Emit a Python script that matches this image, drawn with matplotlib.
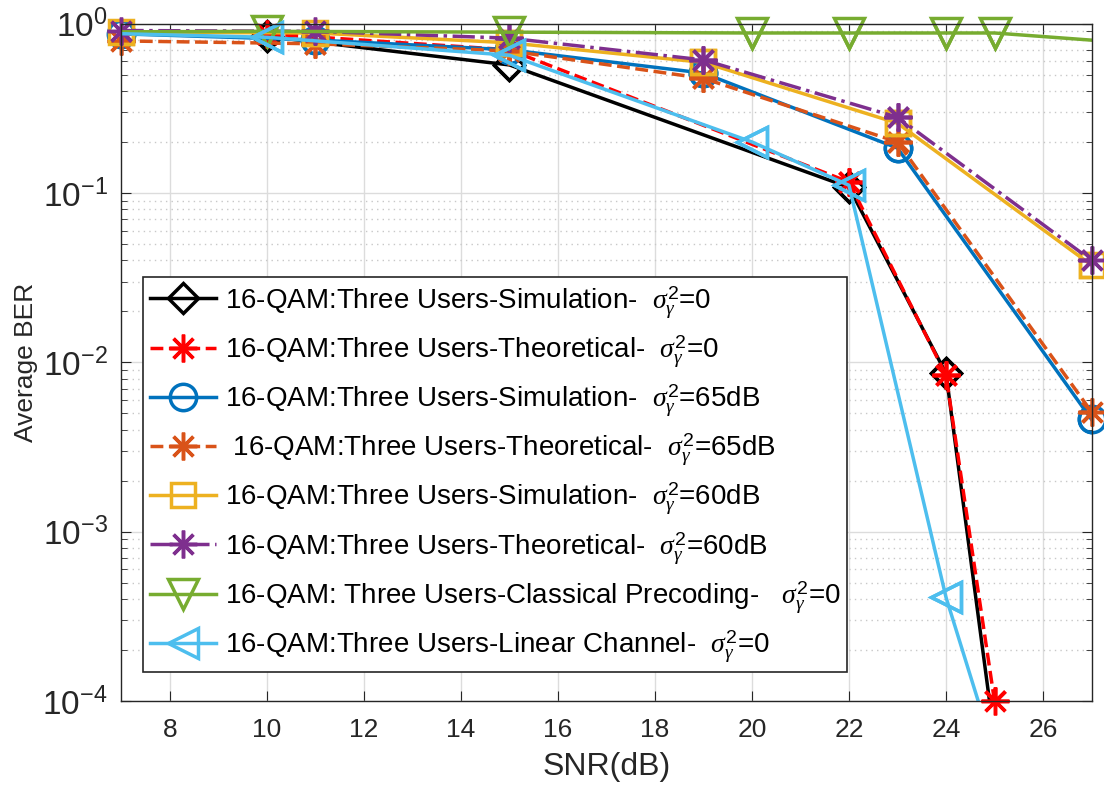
import numpy as np
import matplotlib
matplotlib.use('Agg')
import matplotlib.pyplot as plt

plt.rcParams['font.family'] = ['Liberation Sans', 'DejaVu Sans']
plt.rcParams['mathtext.fontset'] = 'custom'
plt.rcParams['mathtext.rm'] = 'Liberation Sans'
plt.rcParams['mathtext.it'] = 'Liberation Serif:italic'
plt.rcParams['mathtext.bf'] = 'Liberation Sans:bold'

# SNR points
snr_a = [10, 15, 22, 24, 25]
snr_b = [7, 11, 15, 19, 23, 27]
snr_cp = [5, 10, 15, 20, 22, 24, 25, 30]
snr_lin = [5, 10, 15, 20, 22, 24, 25]

# BER values
sim_0 = [0.84, 0.57, 0.108, 0.0086, 6.0e-5]
theo_0 = [0.87, 0.70, 0.116, 0.0084, 1.0e-4]
sim_65 = [0.87, 0.80, 0.70, 0.51, 0.184, 0.0046]
theo_65 = [0.79, 0.76, 0.69, 0.475, 0.20, 0.0051]
sim_60 = [0.89, 0.88, 0.77, 0.59, 0.258, 0.0375]
theo_60 = [0.91, 0.90, 0.82, 0.61, 0.28, 0.040]
classical = [0.89, 0.90, 0.89, 0.88, 0.88, 0.88, 0.88, 0.69]
linear = [0.90, 0.83, 0.65, 0.20, 0.111, 4.1e-4, 4.9e-5]

sig = r'$\sigma_{\gamma}^{2}$'
labels = [
    '16-QAM:Three Users-Simulation-  ' + sig + '=0',
    '16-QAM:Three Users-Theoretical-  ' + sig + '=0',
    '16-QAM:Three Users-Simulation-  ' + sig + '=65dB',
    ' 16-QAM:Three Users-Theoretical-  ' + sig + '=65dB',
    '16-QAM:Three Users-Simulation-  ' + sig + '=60dB',
    '16-QAM:Three Users-Theoretical-  ' + sig + '=60dB',
    '16-QAM: Three Users-Classical Precoding-   ' + sig + '=0',
    '16-QAM:Three Users-Linear Channel-  ' + sig + '=0',
]

star = (8, 2, 0)
series = [
    (snr_a, sim_0, 'k', '-', 'D', 15),
    (snr_a, theo_0, 'r', '--', star, 20),
    (snr_b, sim_65, '#0072BD', '-', 'o', 19),
    (snr_b, theo_65, '#D95319', '--', star, 20),
    (snr_b, sim_60, '#EDB120', '-', 's', 17),
    (snr_b, theo_60, '#7E2F8E', '-.', star, 20),
    (snr_cp, classical, '#77AC30', '-', 'v', 22),
    (snr_lin, linear, '#4DBEEE', '-', '<', 22),
]

fig = plt.figure(figsize=(11.04, 7.86), dpi=100)
ax = fig.add_axes([0.110, 0.108, 0.8787, 0.862])

handles = []
for (x, y, c, ls, mk, ms), lab in zip(series, labels):
    h, = ax.plot(x, y, color=c, linestyle=ls, linewidth=2.5, marker=mk,
                 markersize=ms, markerfacecolor='none', markeredgecolor=c,
                 markeredgewidth=2.5, label=lab)
    handles.append(h)
    # markers are not clipped at the axes edge, lines are
    x = np.array(x)
    y = np.array(y)
    m = (x >= 7) & (x <= 27) & (y >= 1e-4) & (y <= 1)
    ax.plot(x[m], y[m], linestyle='none', marker=mk, markersize=ms,
            markerfacecolor='none', markeredgecolor=c, markeredgewidth=2.5,
            clip_on=False, zorder=h.get_zorder())

ax.set_yscale('log')
ax.set_xlim(7, 27)
ax.set_ylim(1e-4, 1)
ax.set_xticks(np.arange(8, 27, 2))
ax.grid(True, which='major', color='#dcdcdc', linewidth=1.0)
ax.grid(True, which='minor', axis='y', color='#c8c8c8', linestyle=(0, (1, 3)), linewidth=1.0)
ax.set_axisbelow(True)
ax.tick_params(which='both', direction='in', top=True, right=True, colors='#262626')
ax.tick_params(axis='x', labelsize=19, pad=12)
ax.tick_params(axis='y', labelsize=24, pad=10)
ax.tick_params(which='major', length=7)
ax.tick_params(which='minor', length=4)
for s in ax.spines.values():
    s.set_color('#262626')
    s.set_linewidth(1.0)

ax.set_xlabel('SNR(dB)', fontsize=23, color='#262626', labelpad=7)
ax.set_ylabel('Average BER', fontsize=19, color='#262626', labelpad=3)

leg = ax.legend(handles=handles, loc='lower left', bbox_to_anchor=(0.022, 0.043),
                borderaxespad=0, fontsize=20, handlelength=2.4, labelspacing=0.45,
                fancybox=False, framealpha=1, edgecolor='#262626', borderpad=0.25,
                handletextpad=0.3)
leg.get_frame().set_linewidth(1.2)

fig.savefig('out.png', dpi=100)
